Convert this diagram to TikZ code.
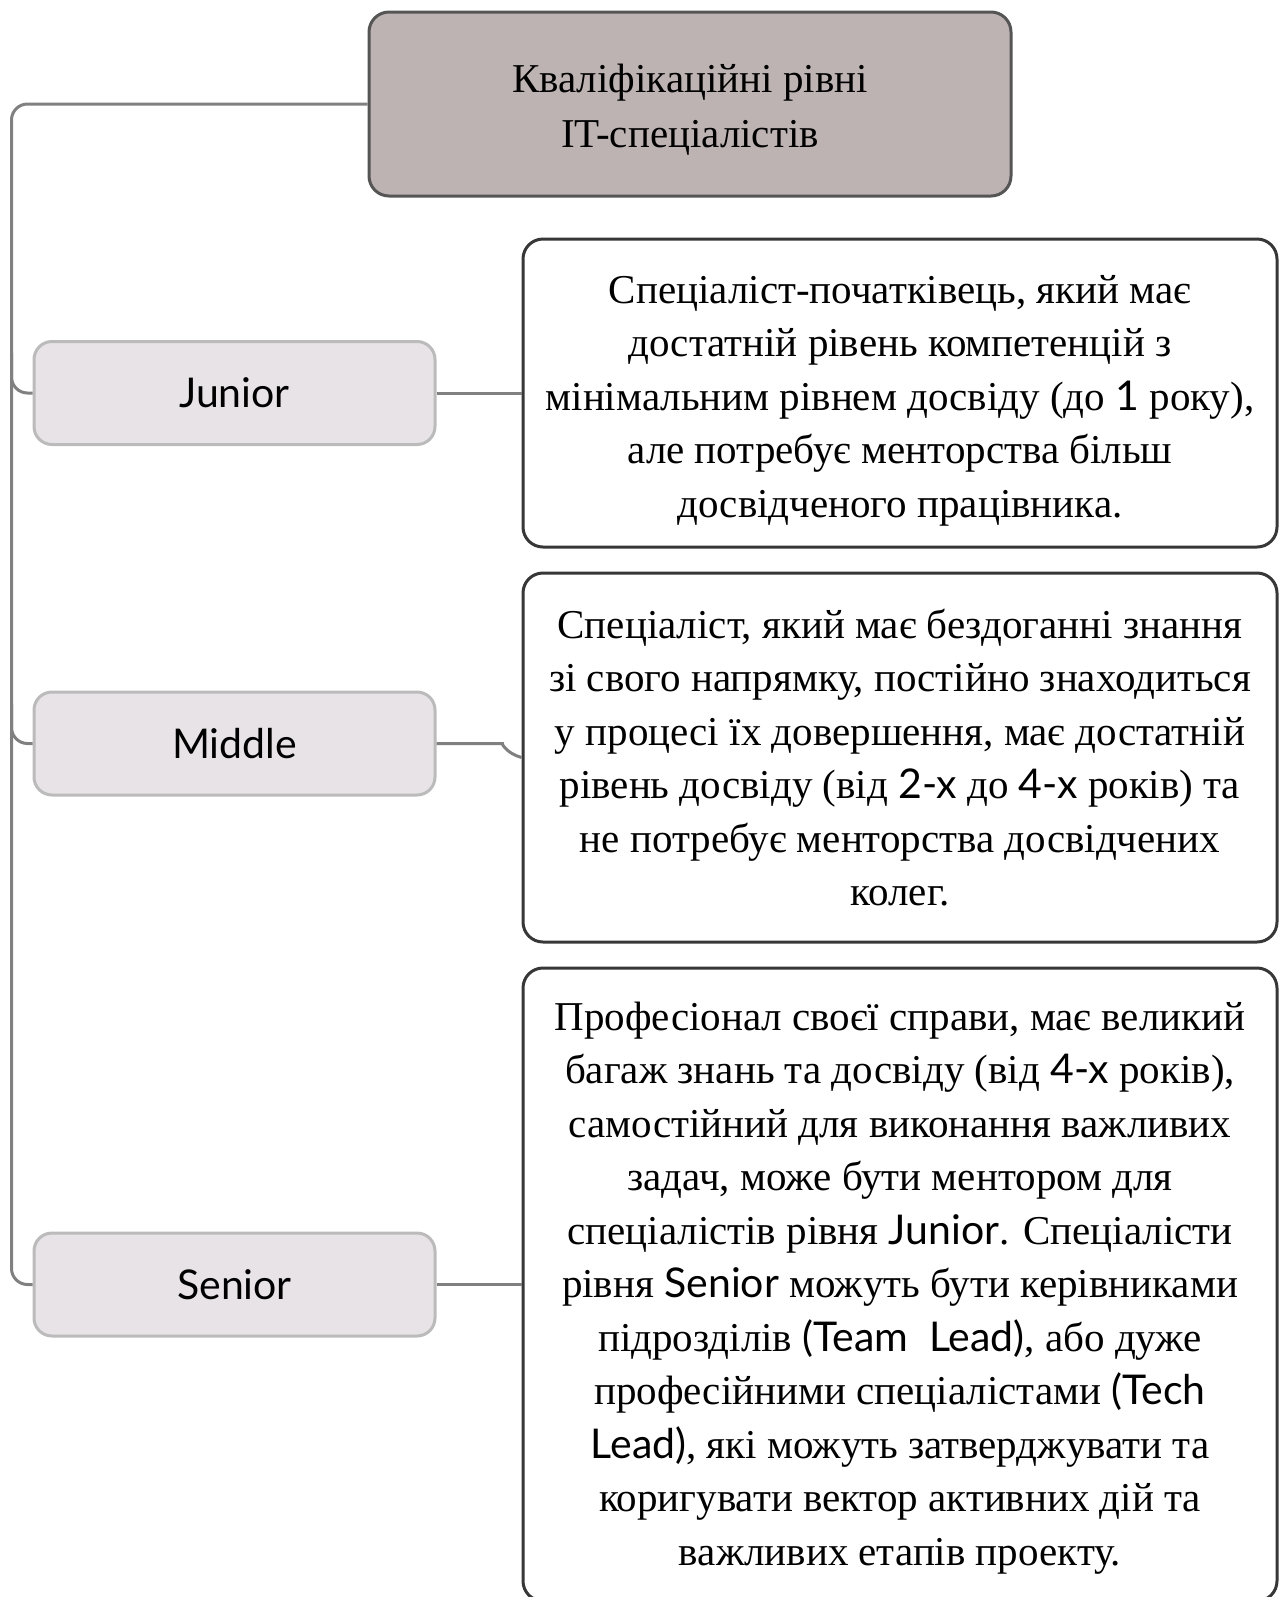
\documentclass[tikz,border=0pt]{standalone}
\usepackage{fontspec}
\setmainfont{Liberation Serif}
\newfontfamily\latofont{Lato}
\usetikzlibrary{positioning}
\definecolor{Head}{RGB}{189,179,178}
\definecolor{HeadLine}{RGB}{85,85,85}
\definecolor{Lvl}{RGB}{231,227,230}
\definecolor{LvlLine}{RGB}{187,187,187}
\definecolor{DescLine}{RGB}{55,55,55}
\definecolor{Conn}{RGB}{128,128,128}
\tikzset{
  lbase/.style={line width=1.5pt,align=center,inner sep=0pt,font=\fontsize{20.5}{26.75}\selectfont},
  lhead/.style={lbase,rounded corners=10pt,fill=Head,draw=HeadLine,minimum width=321pt,minimum height=92pt,font=\fontsize{20.5}{27.5}\selectfont},
  llvl/.style={lbase,rounded corners=9pt,fill=Lvl,draw=LvlLine,minimum width=200.5pt,minimum height=51.5pt,font=\latofont\fontsize{20.5}{26}\selectfont},
  ldesc/.style={lbase,rounded corners=10pt,fill=white,draw=DescLine,minimum width=377pt},
  lconn/.style={line width=1.5pt,draw=Conn,rounded corners=8pt}
}
\newcommand{\lt}[1]{{\latofont #1}}
\newcommand{\lpush}[1]{\rule{0pt}{#1}}

\begin{document}
\begin{tikzpicture}[x=0.5pt,y=-0.5pt,node distance=11.5pt and 42.5pt]
\useasboundingbox (0,0) rectangle (1282,1597);
\node[lhead] (head) at (690,104) {\lpush{19.7pt}Кваліфікаційні рівні\\IT-спеціалістів};
\node[ldesc, minimum height=154pt] (djun) at (900,393) {\lpush{21.6pt}Спеціаліст-початківець, який має\\ достатній рівень компетенцій з\\ мінімальним рівнем досвіду (до \lt{1} року),\\ але потребує менторства більш\\ досвідченого працівника.};
\node[ldesc, minimum height=184.5pt, below=of djun] (dmid) {Спеціаліст, який має бездоганні знання\\ зі свого напрямку, постійно знаходиться\\ у процесі їх довершення, має достатній\\ рівень досвіду (від \lt{2-х} до \lt{4-х} років) та\\ не потребує менторства досвідчених\\ колег.};
\node[ldesc, minimum height=316.5pt, below=of dmid] (dsen) {\lpush{17.6pt}Професіонал своєї справи, має великий\\ багаж знань та досвіду (від \lt{4-х} років),\\ самостійний для виконання важливих\\ задач, може бути ментором для\\ спеціалістів рівня \lt{Junior}. Спеціалісти\\ рівня \lt{Senior} можуть бути керівниками\\ підрозділів \lt{(Team\ \ Lead)}, або дуже\\ професійними спеціалістами \lt{(Tech}\\ \lt{Lead)}, які можуть затверджувати та\\ коригувати вектор активних дій та\\ важливих етапів проекту.};
\node[llvl, left=of djun] (junior) {Junior};
\node[llvl] (middle) at (234.5,743.5) {Middle};
\node[llvl, left=of dsen] (senior) {Senior};
% trunk and branches
\draw[lconn] (head.west) -| ([shift={(-21,0)}]senior.west) -- (senior.west);
\draw[lconn] (junior.west) -- ++(-21,0) -- ++(0,-40);
\draw[lconn] (middle.west) -- ++(-21,0) -- ++(0,-40);
\draw[lconn] (junior) -- (djun);
\draw[lconn] (middle.east) -- ++(50,0) to[out=0,in=165] (dmid.west);
\draw[lconn] (senior) -- (dsen);
\end{tikzpicture}
\end{document}
